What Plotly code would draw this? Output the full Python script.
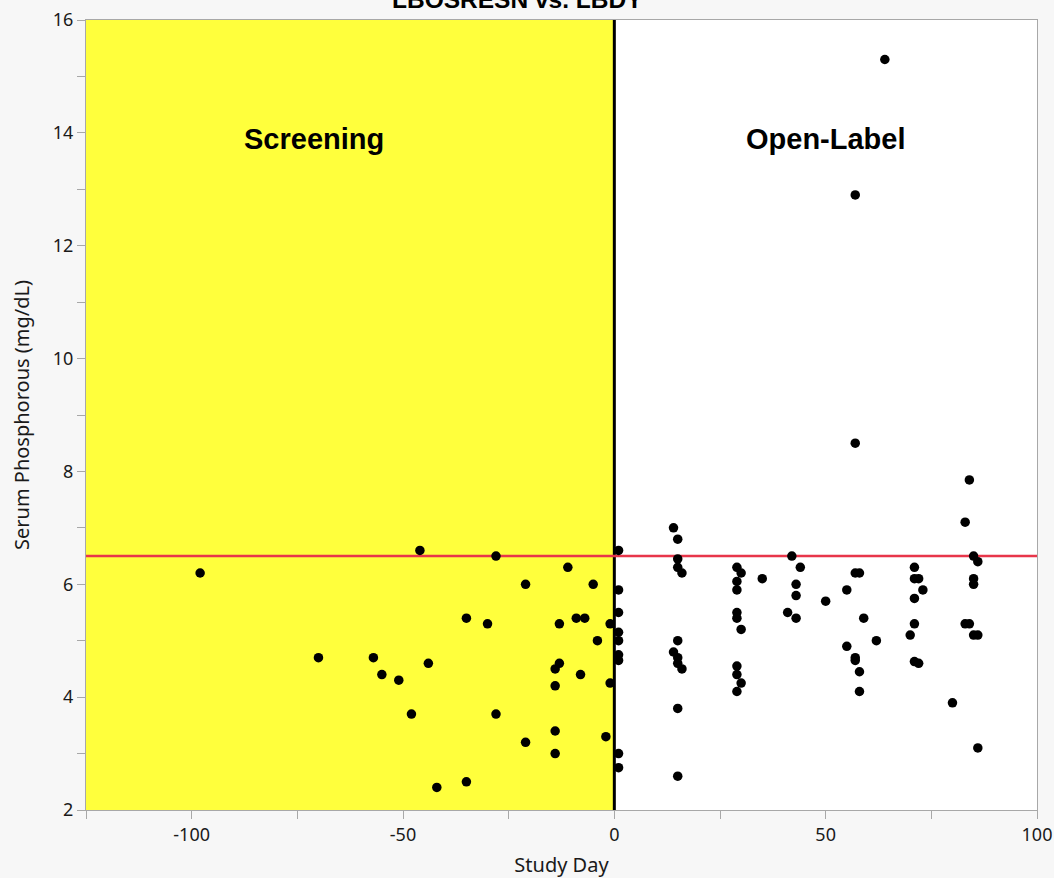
import plotly.graph_objects as go

# ---- data (Study Day, Serum Phosphorous mg/dL) ----
screen_day = [-98, -46, -28, -11, -21, -5, -35, -30, -13, -9, -7, -1, -4,
              -70, -57, -55, -51, -44, -14, -13, -8, -1, -14, -48, -28,
              -14, -2, -21, -14, -42, -35]
screen_val = [6.2, 6.6, 6.5, 6.3, 6.0, 6.0, 5.4, 5.3, 5.3, 5.4, 5.4, 5.3, 5.0,
              4.7, 4.7, 4.4, 4.3, 4.6, 4.5, 4.6, 4.4, 4.25, 4.2, 3.7, 3.7,
              3.4, 3.3, 3.2, 3.0, 2.4, 2.5]

open_day = [1, 1, 1, 1, 1, 1, 1, 1, 1,
            14, 15, 15, 15, 16, 15, 14, 15, 15, 16, 15, 15,
            29, 30, 29, 29, 29, 29, 30, 29, 29, 30, 29,
            35,
            42, 44, 43, 43, 41, 43,
            50, 55, 57, 58, 59, 62, 55, 57, 57, 58, 58, 57, 57, 64,
            71, 71, 72, 73, 71, 71, 70, 71, 72,
            84, 83, 85, 86, 85, 85, 83, 84, 85, 86, 80, 86]
open_val = [6.6, 5.9, 5.5, 5.15, 5.0, 4.75, 4.65, 3.0, 2.75,
            7.0, 6.8, 6.45, 6.3, 6.2, 5.0, 4.8, 4.7, 4.6, 4.5, 3.8, 2.6,
            6.3, 6.2, 6.05, 5.9, 5.5, 5.4, 5.2, 4.55, 4.4, 4.25, 4.1,
            6.1,
            6.5, 6.3, 6.0, 5.8, 5.5, 5.4,
            5.7, 5.9, 6.2, 6.2, 5.4, 5.0, 4.9, 4.7, 4.65, 4.45, 4.1, 8.5, 12.9, 15.3,
            6.3, 6.1, 6.1, 5.9, 5.75, 5.3, 5.1, 4.63, 4.6,
            7.85, 7.1, 6.5, 6.4, 6.1, 6.0, 5.3, 5.3, 5.1, 5.1, 3.9, 3.1]

ref_value = 6.5
x_range = [-125, 100]
y_range = [2, 16]
x_tick_vals = [-100, -50, 0, 50, 100]
x_tick_text = ["-100", "-50", "0", "50", "100"]
phase_labels = ["Screening", "Open-Label"]
phase_label_x = [-71, 50]
phase_label_y = 13.9

fig = go.Figure()

marker = dict(color="black", size=9.5)
fig.add_trace(go.Scatter(x=screen_day, y=screen_val, mode="markers",
                         marker=marker, showlegend=False, cliponaxis=False))
fig.add_trace(go.Scatter(x=open_day, y=open_val, mode="markers",
                         marker=marker, showlegend=False, cliponaxis=False))

# yellow screening region
fig.add_shape(type="rect", xref="x", yref="y", x0=x_range[0], x1=0,
              y0=y_range[0], y1=y_range[1], fillcolor="#ffff3c",
              line=dict(width=0), layer="below")
# day 0 divider
fig.add_shape(type="line", xref="x", yref="y", x0=0, x1=0,
              y0=y_range[0], y1=y_range[1], line=dict(color="black", width=3),
              layer="below")
# reference line
fig.add_shape(type="line", xref="x", yref="y", x0=x_range[0], x1=x_range[1],
              y0=ref_value, y1=ref_value, line=dict(color="#e8364a", width=2.5),
              layer="below")

for lab, lx in zip(phase_labels, phase_label_x):
    fig.add_annotation(x=lx, y=phase_label_y, xref="x", yref="y", text=lab,
                       showarrow=False,
                       font=dict(family="Liberation Sans", size=29, color="black",
                                 weight="bold"))

fig.add_annotation(x=(517 - 86) / (1037 - 86), xref="paper", y=1.006, yref="paper",
                   text="LBOSRESN vs. LBDY", showarrow=False, yanchor="bottom",
                   font=dict(family="Liberation Sans", size=24.5, color="black",
                             weight="bold"))

axis_common = dict(showgrid=False, zeroline=False, showline=True,
                   linecolor="#a8a8a8", linewidth=1, mirror=True,
                   ticks="outside", tickcolor="#a8a8a8", ticklen=8,
                   automargin=False,
                   tickfont=dict(family="Noto Sans", size=18, color="#1a1a1a"))

fig.update_xaxes(range=x_range, tickmode="array", tickvals=x_tick_vals,
                 ticktext=x_tick_text,
                 minor=dict(dtick=25, tick0=0, ticks="outside", ticklen=8,
                            tickcolor="#a8a8a8"),
                 title=dict(text="Study Day", standoff=13,
                            font=dict(family="Noto Sans", size=20, color="#1a1a1a")),
                 **axis_common)
fig.update_yaxes(range=y_range, tick0=0, dtick=2,
                 minor=dict(dtick=1, ticks="outside", ticklen=8, tickcolor="#a8a8a8"),
                 title=dict(text="Serum Phosphorous (mg/dL)", standoff=17,
                            font=dict(family="Noto Sans", size=20, color="#1a1a1a")),
                 **axis_common)

fig.update_layout(width=1054, height=878,
                  margin=dict(l=86, r=17, t=20, b=68),
                  paper_bgcolor="#f7f7f7", plot_bgcolor="white")

fig.write_html("out.html")
